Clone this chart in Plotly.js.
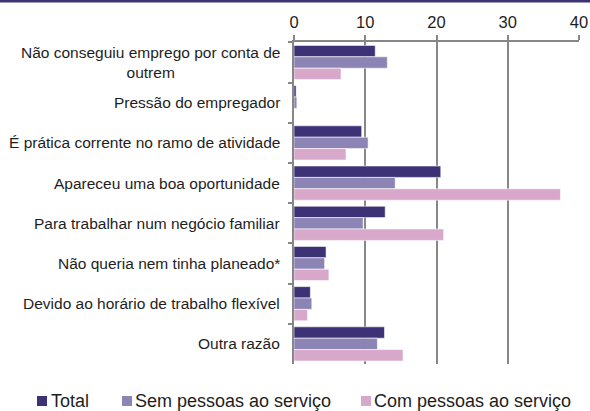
<!DOCTYPE html>
<html>
<head>
<meta charset="utf-8">
<script src="https://cdn.plot.ly/plotly-3.0.1.min.js"></script>
<style>html,body{margin:0;padding:0;background:#fff;}#chart{width:590px;height:411px;}</style>
</head>
<body>
<div id="chart"></div>
<script>
const categories = [
  "Não conseguiu emprego por conta de outrem",
  "Pressão do empregador",
  "É prática corrente no ramo de atividade",
  "Apareceu uma boa oportunidade",
  "Para trabalhar num negócio familiar",
  "Não queria nem tinha planeado*",
  "Devido ao horário de trabalho flexível",
  "Outra razão"
];
const categoryLabels = [
  "Não conseguiu emprego por conta de<br>outrem",
  "Pressão do empregador",
  "É prática corrente no ramo de atividade",
  "Apareceu uma boa oportunidade",
  "Para trabalhar num negócio familiar",
  "Não queria nem tinha planeado*",
  "Devido ao horário de trabalho flexível",
  "Outra razão"
];
const seriesNames = ["Total", "Sem pessoas ao serviço", "Com pessoas ao serviço"];
const total      = [11.4, 0.3,  9.5, 20.6, 12.8, 4.5, 2.3, 12.7];
const semPessoas = [13.1, 0.4, 10.4, 14.2,  9.7, 4.3, 2.5, 11.7];
const comPessoas = [ 6.6, 0.0,  7.3, 37.4, 21.0, 4.9, 1.9, 15.3];
const xTicks = [0, 10, 20, 30, 40];

const colors = ["#3e3276", "#8b84b5", "#d8a8cb"];
const FONT = "Liberation Sans, Arial, sans-serif";

const W = 590, H = 411, L = 294, R = 11, T = 42, B = 47;
const pw = W - L - R, ph = H - T - B;
const fx = px => (px - L) / pw;
const fy = py => (H - B - py) / ph;

const seriesValues = [total, semPessoas, comPessoas];
const traces = seriesValues.map((vals, i) => ({
  type: "bar",
  orientation: "h",
  name: seriesNames[i],
  x: vals,
  y: categories,
  marker: {color: colors[i], line: {color: "rgba(255,255,255,0.7)", width: 0.8}},
  hoverinfo: "x+name"
}));

const annotations = categories.map((c, i) => ({
  xref: "paper", yref: "y",
  x: fx(282), y: c,
  xanchor: "right", yanchor: "middle",
  text: categoryLabels[i],
  align: "center",
  showarrow: false,
  font: {family: FONT, size: 15.5, color: "#1e1e1e"}
}));

// legend entries
const legendPos = [{sq: 37, tx: 49}, {sq: 122, tx: 133}, {sq: 361, tx: 372}];
const legendY = 401;
const shapes = [
  {type: "line", xref: "paper", yref: "paper", x0: fx(0), x1: fx(W), y0: fy(1), y1: fy(1),
   line: {color: "#3e3276", width: 3}}
];
seriesNames.forEach((n, i) => {
  shapes.push({type: "rect", xref: "paper", yref: "paper",
    x0: fx(legendPos[i].sq), x1: fx(legendPos[i].sq + 10),
    y0: fy(legendY - 5), y1: fy(legendY + 5),
    fillcolor: colors[i], line: {width: 0}});
  annotations.push({xref: "paper", yref: "paper", x: fx(legendPos[i].tx), y: fy(legendY),
    xanchor: "left", yanchor: "middle", text: n, showarrow: false,
    font: {family: FONT, size: 18, color: "#1e1e1e"}});
});

const layout = {
  width: W, height: H,
  margin: {l: L, r: R, t: T, b: B, pad: 0},
  paper_bgcolor: "#fff", plot_bgcolor: "#fff",
  showlegend: false,
  barmode: "group",
  bargap: 0.15,
  bargroupgap: 0,
  font: {family: FONT, color: "#1e1e1e"},
  xaxis: {
    side: "top", range: [0, 40], tickvals: xTicks, ticktext: xTicks.map(String),
    showgrid: true, gridcolor: "#878787", gridwidth: 2,
    zeroline: false, showline: true, linecolor: "#878787", linewidth: 2,
    ticks: "outside", ticklen: 5, tickwidth: 2, tickcolor: "#878787",
    tickfont: {family: FONT, size: 16.5, color: "#1e1e1e"}, fixedrange: true
  },
  yaxis: {
    type: "category", autorange: "reversed",
    showticklabels: false, showgrid: false, zeroline: false,
    showline: true, linecolor: "#878787", linewidth: 2,
    ticks: "outside", ticklen: 4, tickwidth: 2, tickcolor: "#878787",
    tickson: "boundaries", fixedrange: true
  },
  annotations: annotations,
  shapes: shapes
};

Plotly.newPlot("chart", traces, layout, {displayModeBar: false, staticPlot: true});
</script>
</body>
</html>
